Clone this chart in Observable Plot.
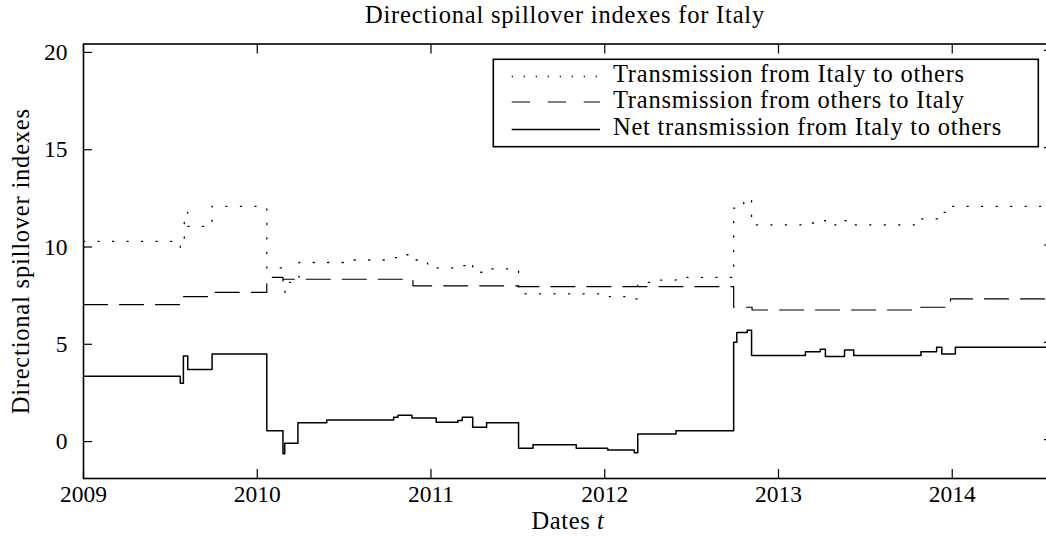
<!DOCTYPE html>
<html>
<head>
<meta charset="utf-8">
<script src="https://cdn.jsdelivr.net/npm/d3@7"></script>
<script src="https://cdn.jsdelivr.net/npm/@observablehq/plot@0.6"></script>
<style>
  body { margin: 0; background: #fff; }
  #wrap { position: relative; width: 1046px; height: 541px; overflow: hidden; font-family: "Liberation Serif", serif; color: #000; background: #fff; }
  #title { position: absolute; left: 83px; width: 964px; top: 0; height: 30px; line-height: 30px; font-size: 24.5px; letter-spacing: 0.8px; text-align: center; }
  #chart { position: absolute; left: 0; top: 30px; }
  #legend { position: absolute; left: 0; top: 0; }
</style>
</head>
<body>
<div id="wrap">
  <div id="title">Directional spillover indexes for Italy</div>
  <div id="chart"></div>
  <svg id="legend" width="1046" height="541"></svg>
</div>
<script>
// ---------- data (decimal years, step values) ----------
const seriesNames = [
  "Transmission from Italy to others",
  "Transmission from others to Italy",
  "Net transmission from Italy to others"
];
const yearTicks = [2009, 2010, 2011, 2012, 2013, 2014];
const valueTicks = [0, 5, 10, 15, 20];
const xDomain = [2009, 2014.577];
const yDomain = [-2, 20.33];

// Transmission from Italy to others (dotted)
const toOthersT = [2009.0, 2009.557, 2009.58, 2009.60, 2009.74, 2010.055, 2010.148, 2010.16, 2010.24, 2010.50, 2010.785, 2010.81, 2010.89, 2010.98, 2011.03, 2011.16, 2011.20, 2011.24, 2011.32, 2011.504, 2012.02, 2012.12, 2012.19, 2012.30, 2012.41, 2012.742, 2012.80, 2012.845, 2013.155, 2013.24, 2013.27, 2013.38, 2013.433, 2013.82, 2013.93, 2013.99, 2014.577];
const toOthersV = [10.19, 9.88, 11.68, 10.96, 11.99, 8.82, 7.57, 8.08, 9.10, 9.23, 9.35, 9.50, 9.23, 9.03, 8.82, 8.94, 9.08, 8.60, 8.77, 7.49, 7.35, 7.23, 8.08, 8.20, 8.34, 11.90, 12.37, 11.03, 11.13, 11.25, 11.03, 11.25, 11.03, 11.34, 11.68, 11.99, 11.99];

// Transmission from others to Italy (dashed)
const fromOthersT = [2009.0, 2009.566, 2009.74, 2010.055, 2010.148, 2010.896, 2011.50, 2012.742, 2012.848, 2013.82, 2013.99, 2014.577];
const fromOthersV = [6.94, 7.35, 7.57, 8.34, 8.24, 7.90, 7.86, 6.80, 6.66, 6.80, 7.23, 7.23];

// Net transmission from Italy to others (solid)
const netT = [2009.0, 2009.557, 2009.575, 2009.60, 2009.74, 2010.055, 2010.148, 2010.158, 2010.234, 2010.40, 2010.785, 2010.81, 2010.89, 2011.03, 2011.155, 2011.18, 2011.24, 2011.32, 2011.504, 2011.587, 2011.836, 2012.017, 2012.17, 2012.19, 2012.41, 2012.742, 2012.76, 2012.82, 2012.845, 2013.155, 2013.24, 2013.27, 2013.38, 2013.433, 2013.82, 2013.91, 2013.94, 2014.018, 2014.577];
const netV = [3.25, 2.90, 4.30, 3.60, 4.40, 0.46, -0.73, -0.19, 0.87, 1.01, 1.15, 1.25, 1.11, 0.89, 0.98, 1.15, 0.63, 0.86, -0.45, -0.27, -0.45, -0.53, -0.68, 0.29, 0.46, 5.00, 5.50, 5.62, 4.32, 4.52, 4.64, 4.27, 4.61, 4.32, 4.52, 4.74, 4.40, 4.74, 4.74];

const dashes = ["1.2,13.3", "24,12", null];
const legendDashes = ["1.2,10.8", "18.3,17.7", null];

// ---------- build ----------
const rows = (t, v) => t.map((d, i) => ({t: d, v: v[i]}));
const series = [rows(toOthersT, toOthersV), rows(fromOthersT, fromOthersV), rows(netT, netV)];
const widths = [1.3, 1.2, 1.5];

const chart = Plot.plot({
  width: 1046,
  height: 511,
  marginLeft: 83,
  marginRight: -6,
  marginTop: 13.5,
  marginBottom: 63,
  style: {fontFamily: '"Liberation Serif", serif', fontSize: "23.5px", background: "white", color: "black", overflow: "visible"},
  x: {domain: xDomain},
  y: {domain: yDomain},
  marks: [
    ...series.map((s, i) => Plot.line(s, {x: "t", y: "v", curve: "step-after", stroke: "black", strokeWidth: widths[i], strokeDasharray: dashes[i]})),
    Plot.frame({stroke: "black", strokeWidth: 1.6}),
    Plot.axisX({anchor: "bottom", ticks: yearTicks, tickSize: -9, tickPadding: 16, tickFormat: d3.format("d"), label: null, strokeWidth: 1.2}),
    Plot.axisX({anchor: "top", ticks: yearTicks, tickSize: -9, tickFormat: () => "", label: null, strokeWidth: 1.2}),
    Plot.axisY({anchor: "left", ticks: valueTicks, tickSize: -9, tickPadding: 25, dy: 2, label: null, strokeWidth: 1.2}),
    Plot.axisY({anchor: "right", ticks: valueTicks, tickSize: -9, tickFormat: () => "", label: null, strokeWidth: 1.2}),
    Plot.text(["Dates t"], {frameAnchor: "bottom", dy: 50, fontSize: 24.5, textAnchor: "middle", text: d => d}),
    Plot.text(["Directional spillover indexes"], {frameAnchor: "left", rotate: -90, dx: -62, fontSize: 24.5, textAnchor: "middle", text: d => d})
  ]
});
document.getElementById("chart").appendChild(chart);

// italic t in x label, letter spacing on word labels
chart.querySelectorAll("text").forEach(el => {
  if (el.textContent === "Dates t") {
    el.textContent = "Dates ";
    const ts = document.createElementNS("http://www.w3.org/2000/svg", "tspan");
    ts.setAttribute("font-style", "italic");
    ts.textContent = "t";
    el.appendChild(ts);
    el.style.letterSpacing = "0.6px";
  } else if (el.textContent === "Directional spillover indexes") {
    el.style.letterSpacing = "0.8px";
  }
});

// ---------- legend (inside plot, upper right) ----------
const lg = d3.select("#legend");
const box = {x: 493.3, y: 59.3, w: 545, h: 87.4};
lg.append("rect").attr("x", box.x).attr("y", box.y).attr("width", box.w).attr("height", box.h)
  .attr("fill", "white").attr("stroke", "black").attr("stroke-width", 1.6);
const rowBase = [82, 107.5, 135];
seriesNames.forEach((name, i) => {
  const ly = rowBase[i] - 5.5;
  lg.append("line").attr("x1", 511.7).attr("x2", 600).attr("y1", ly).attr("y2", ly)
    .attr("stroke", "black").attr("stroke-width", widths[i])
    .attr("stroke-dasharray", legendDashes[i]);
  lg.append("text").attr("x", 613).attr("y", rowBase[i])
    .attr("font-family", '"Liberation Serif", serif').attr("font-size", 24.5)
    .attr("letter-spacing", "0.75px").text(name);
});
</script>
</body>
</html>
